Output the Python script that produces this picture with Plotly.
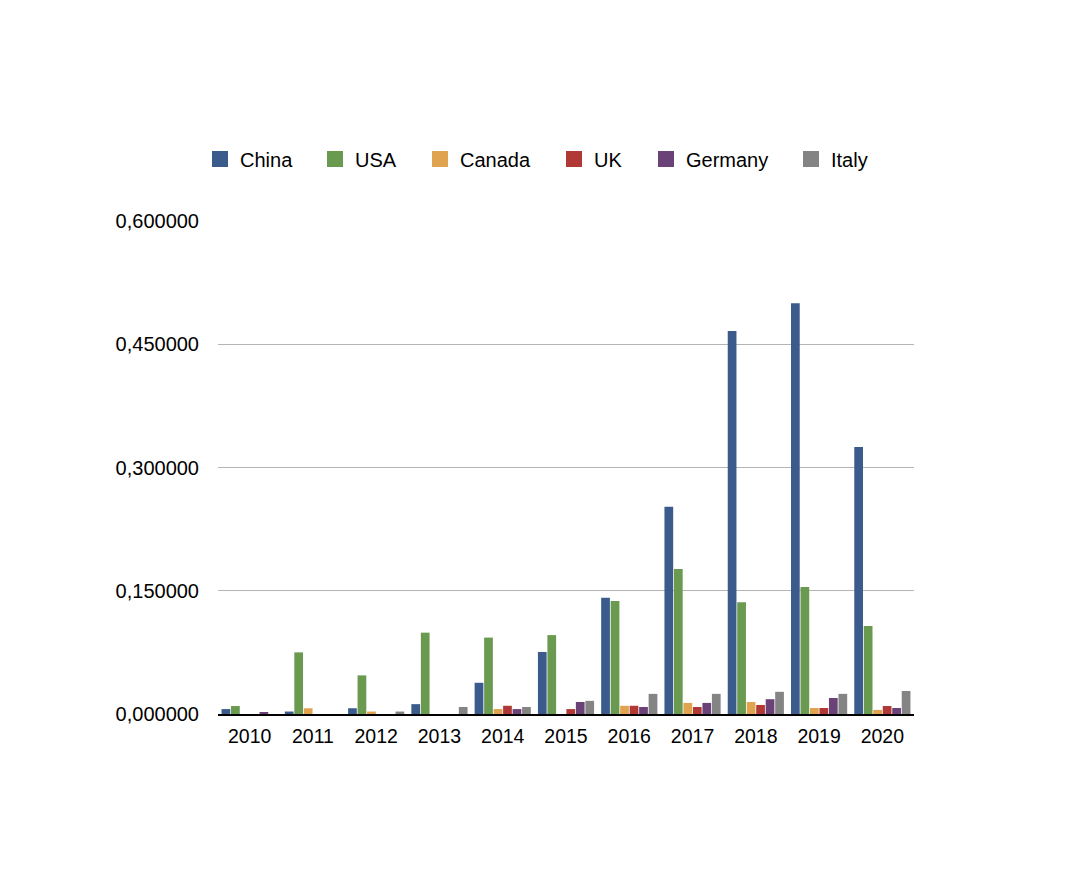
import plotly.graph_objects as go

years = ["2010", "2011", "2012", "2013", "2014", "2015", "2016", "2017", "2018", "2019", "2020"]
china = [0.006, 0.003, 0.007, 0.012, 0.038, 0.0755, 0.1415, 0.2523, 0.466, 0.500, 0.325]
usa = [0.0097, 0.075, 0.047, 0.099, 0.093, 0.096, 0.1375, 0.1765, 0.136, 0.1545, 0.107]
canada = [0.0, 0.007, 0.003, 0.0, 0.006, 0.0, 0.010, 0.0135, 0.0146, 0.0073, 0.005]
uk = [0.0, 0.0, 0.0, 0.0, 0.010, 0.006, 0.010, 0.0085, 0.011, 0.0073, 0.0097]
germany = [0.002, 0.0, 0.0, 0.0, 0.006, 0.0146, 0.0085, 0.0135, 0.018, 0.0195, 0.0073]
italy = [0.0, 0.0, 0.003, 0.0085, 0.0085, 0.016, 0.0245, 0.0245, 0.027, 0.0245, 0.028]

names = ["China", "USA", "Canada", "UK", "Germany", "Italy"]
values = [china, usa, canada, uk, germany, italy]
colors = ["#3a5b8c", "#6a9a50", "#e0a34f", "#b03936", "#6a4277", "#848484"]
# legend square centres (pixels) in the reference
legend_px = [220, 335, 440, 574, 666, 811]

font = "Liberation Sans, Arial, Helvetica, sans-serif"
L, R, T, B = 218, 164, 221, 182
W, H = 1078, 896
pw = W - L - R
ph = H - T - B

fig = go.Figure()
for name, vals, col in zip(names, values, colors):
    fig.add_trace(go.Bar(x=years, y=vals, name=name, showlegend=False,
                         marker=dict(color=col, line=dict(width=0))))

legends = {}
for i, (name, col, px) in enumerate(zip(names, colors, legend_px)):
    key = "legend" if i == 0 else f"legend{i+1}"
    fig.add_trace(go.Scatter(x=[None], y=[None], mode="markers", name=name,
                             legend=key, showlegend=True,
                             marker=dict(symbol="square", size=17, color=col)))
    legends[key] = dict(orientation="h", x=(px - 20 - L) / pw, xanchor="left",
                        y=(H - B - 159) / ph, yanchor="middle",
                        font=dict(size=20, family=font), itemsizing="trace",
                        bgcolor="rgba(0,0,0,0)", borderwidth=0)

fig.update_layout(
    width=W, height=H,
    margin=dict(l=L, r=R, t=T, b=B),
    paper_bgcolor="white", plot_bgcolor="white",
    barmode="group", bargap=0.1, bargroupgap=0.08,
    separators=",.",
    font=dict(family=font, size=20, color="black"),
    showlegend=True,
    xaxis=dict(showgrid=False, showline=True, linecolor="black", linewidth=2,
               ticks="", tickfont=dict(size=19.5), ticklabelstandoff=4),
    yaxis=dict(range=[0, 0.6], dtick=0.15, tick0=0, tickformat=".6f",
               showgrid=True, gridcolor="#b4b4b4", gridwidth=1, zeroline=False,
               showline=False, ticks="", ticklabelstandoff=18, tickfont=dict(size=20)),
    **legends,
)

fig.write_html("out.html")
